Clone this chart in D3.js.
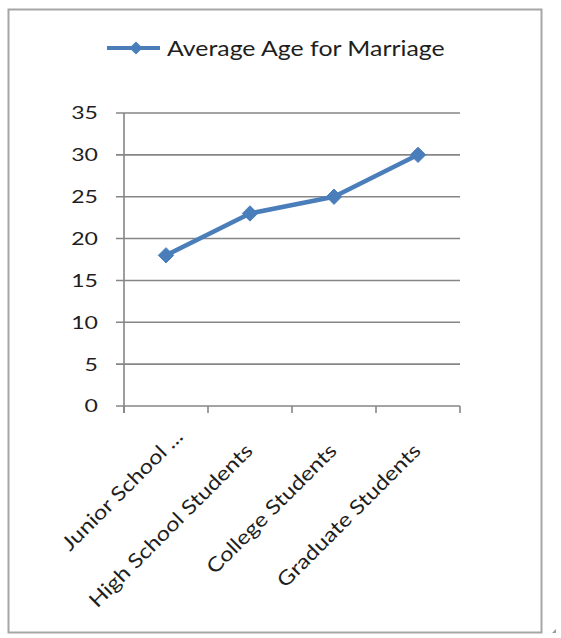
<!DOCTYPE html>
<html>
<head>
<meta charset="utf-8">
<script src="https://cdn.jsdelivr.net/npm/d3@7"></script>
<style>
  body { margin: 0; background: #fff; }
  svg { display: block; font-family: Lato, "Open Sans", sans-serif; }
</style>
</head>
<body>
<div id="chart"></div>
<script>
"use strict";

// data
const categories = ["Junior School ...", "High School Students", "College Students", "Graduate Students"];
const ages = [18, 23, 25, 30];
const yTicks = [0, 5, 10, 15, 20, 25, 30, 35];
const seriesName = "Average Age for Marriage";

const W = 561, H = 638;
const blue = "#4a7ebb", grid = "#868686", ink = "#1e1e1e";

const svg = d3.select("#chart").append("svg")
    .attr("width", W)
    .attr("height", H);

// chart frame
svg.append("rect")
    .attr("x", 8.5).attr("y", 9.5)
    .attr("width", 533).attr("height", 623)
    .attr("fill", "#fff")
    .attr("stroke", "#a6a6a6")
    .attr("stroke-width", 2);

// little resize grip bottom right
svg.append("path")
    .attr("d", "M556,629 L556,633 L552,633 Z")
    .attr("fill", "#9a9a9a");

const plot = {left: 124, right: 460, top: 113, bottom: 406};

const x = d3.scaleBand()
    .domain(categories)
    .range([plot.left, plot.right]);

const y = d3.scaleLinear()
    .domain([0, 35])
    .range([plot.bottom, plot.top]);

// the screenshot's text is a bit wider than Lato, stretch it
function widen(sel, k) {
    sel.each(function() {
        let len = this.getComputedTextLength();
        d3.select(this)
            .attr("textLength", len * k)
            .attr("lengthAdjust", "spacingAndGlyphs");
    });
}

// gridlines
svg.append("g")
    .selectAll("line")
    .data(yTicks)
    .enter()
    .append("line")
    .attr("x1", plot.left - 8)
    .attr("x2", plot.right)
    .attr("y1", d => y(d))
    .attr("y2", d => y(d))
    .attr("stroke", grid)
    .attr("stroke-width", 1.6);

// y axis line
svg.append("line")
    .attr("x1", plot.left).attr("x2", plot.left)
    .attr("y1", plot.top).attr("y2", plot.bottom + 7)
    .attr("stroke", grid)
    .attr("stroke-width", 1.6);

// category tick marks
svg.append("g")
    .selectAll("line")
    .data(categories.concat(["end"]))
    .enter()
    .append("line")
    .attr("x1", (d, i) => i < categories.length ? x(d) : plot.right)
    .attr("x2", (d, i) => i < categories.length ? x(d) : plot.right)
    .attr("y1", plot.bottom)
    .attr("y2", plot.bottom + 7)
    .attr("stroke", grid)
    .attr("stroke-width", 1.6);

// y labels
svg.append("g")
    .selectAll("text")
    .data(yTicks)
    .enter()
    .append("text")
    .attr("x", 98)
    .attr("y", d => y(d))
    .attr("dy", "0.36em")
    .attr("text-anchor", "end")
    .attr("font-size", 18)
    .attr("fill", ink)
    .text(d => d)
    .call(widen, 1.28);

// x labels, rotated
svg.append("g")
    .selectAll("text")
    .data(categories)
    .enter()
    .append("text")
    .attr("transform", d => {
        let cx = x(d) + x.bandwidth() / 2 + 4;
        return `translate(${cx}, 452) rotate(-45)`;
    })
    // the truncated label sits further along
    .attr("dx", d => d.endsWith("...") ? 20 : 0)
    .attr("text-anchor", "end")
    .attr("font-size", 20)
    .attr("fill", ink)
    .text(d => d)
    .call(widen, 1.18);

// the series
const cx = d => x(d) + x.bandwidth() / 2;

svg.append("path")
    .datum(ages)
    .attr("fill", "none")
    .attr("stroke", blue)
    .attr("stroke-width", 4.5)
    .attr("stroke-linejoin", "round")
    .attr("d", d3.line()
        .x((d, i) => cx(categories[i]))
        .y(d => y(d)));

const diamond = d3.symbol().type(d3.symbolDiamond2).size(150);

svg.append("g")
    .selectAll("path")
    .data(ages)
    .enter()
    .append("path")
    .attr("transform", (d, i) => `translate(${cx(categories[i])}, ${y(d)})`)
    .attr("d", diamond)
    .attr("fill", blue)
    .attr("stroke", blue)
    .attr("stroke-width", 1);

// legend
const legend = svg.append("g").attr("transform", "translate(107, 48)");
legend.append("line")
    .attr("x1", 0).attr("x2", 53)
    .attr("stroke", blue)
    .attr("stroke-width", 4);
legend.append("path")
    .attr("transform", "translate(29, 0)")
    .attr("d", d3.symbol().type(d3.symbolDiamond2).size(110))
    .attr("fill", blue);
legend.append("text")
    .attr("x", 60)
    .attr("dy", "0.36em")
    .attr("font-size", 22)
    .attr("fill", ink)
    .text(seriesName)
    .call(widen, 1.13);
</script>
</body>
</html>
